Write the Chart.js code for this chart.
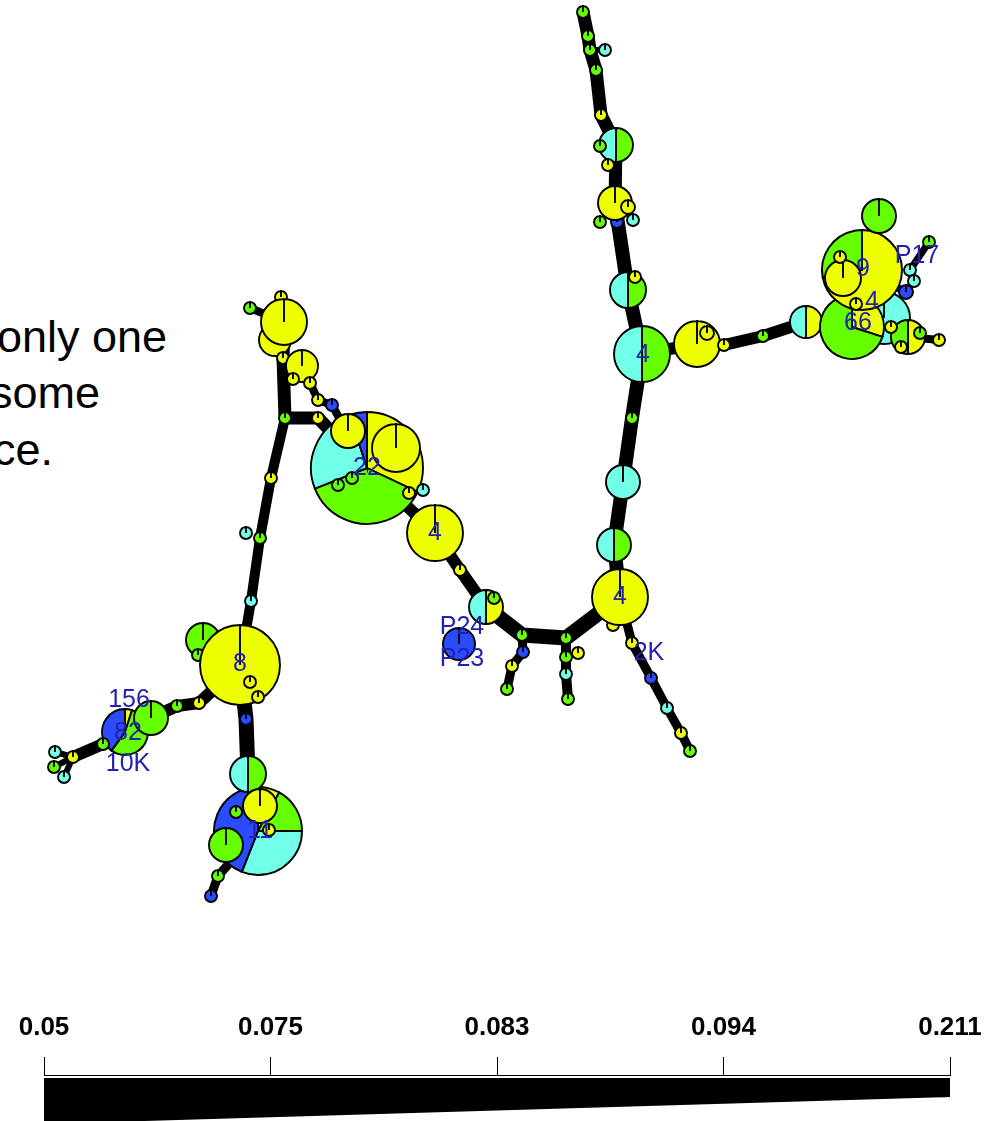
<!DOCTYPE html>
<html>
<head>
<meta charset="utf-8">
<script src="https://cdn.jsdelivr.net/npm/chart.js@4.4.1/dist/chart.umd.min.js"></script>
<style>
  body { margin: 0; background: #fff; }
  #wrap { position: relative; width: 990px; height: 1121px; overflow: hidden; font-family: "Liberation Sans", Arial, sans-serif; }
  .note { position: absolute; font-size: 45px; line-height: 45px; color: #000; white-space: nowrap; }
  #net { position: absolute; left: 0; top: 0; }
  #scale { position: absolute; left: 0; top: 1000px; }
</style>
</head>
<body>
<div id="wrap">
  <div class="note" style="left:275px; top:-48px">Grouping</div>
  <div class="note" style="left:-3px; top:314px">only one</div>
  <div class="note" style="left:-10px; top:370px">some</div>
  <div class="note" style="left:-7px; top:427px">ce.</div>
  <canvas id="net" width="990" height="1000"></canvas>
  <canvas id="scale" width="990" height="121"></canvas>
</div>
<script>
// ==================== DATA ====================
// nodes: id, x, y, size, share of yellow / green / cyan / blue (a letter = one colour only)
const topStem = [
    ['t1', 583, 12, 6, 'G'], ['t2', 588, 36, 6, 'G'], ['t3', 590, 50, 6, 'G'], ['t4', 605, 50, 6, 'C'],
    ['t5', 596, 70, 6, 'G'], ['t6', 601, 115, 6, 'Y'],
    ['t7', 616, 145, 17, [0, .5, .5, 0]], ['t8', 600, 146, 6, 'G'], ['t9', 608, 165, 6, 'Y'],
    ['t13', 617, 222, 6, 'B'], ['t10', 615, 203, 17, 'Y'], ['t11', 628, 207, 7, 'Y'],
    ['t12', 600, 222, 6, 'G'], ['t14', 633, 220, 6, 'C'],
    ['t15', 628, 290, 18, [0, .5, .5, 0]], ['t16', 635, 277, 6, 'Y'],
    ['hA', 642, 354, 28, [0, .5, .5, 0]], ['t17', 632, 418, 6, 'G'],
    ['t18', 623, 482, 17, 'C'], ['t19', 614, 545, 17, [0, .5, .5, 0]],
    ['t20', 613, 625, 6, 'Y'], ['hB', 620, 597, 28, 'Y']
];
const rightArm = [
    ['r1', 697, 344, 23, 'Y'], ['r2', 707, 333, 7, 'Y'], ['r3', 724, 345, 6, 'Y'], ['r4', 763, 336, 6, 'G'],
    ['r5', 806, 322, 16, [.5, 0, .5, 0]],
    ['r6', 884, 318, 26, 'C'], ['r14', 906, 292, 7, 'B'],
    ['h66', 852, 327, 32, [.3, .7, 0, 0]], ['h9', 862, 270, 40, [.72, .28, 0, 0]],
    ['r7', 879, 216, 17, 'G'], ['r8', 843, 278, 18, 'Y'], ['r9', 840, 257, 6, 'Y'], ['r10', 856, 304, 6, 'Y'],
    ['r11', 929, 242, 6, 'G'], ['r12', 910, 270, 6, 'C'], ['r13', 914, 281, 6, 'C'],
    ['r15', 908, 337, 17, [.5, .5, 0, 0]], ['r16', 920, 333, 6, 'G'], ['r17', 901, 347, 6, 'Y'],
    ['r18', 891, 327, 6, 'Y'], ['r19', 939, 340, 6, 'Y']
];
const leftTop = [
    ['l1', 250, 308, 6, 'G'], ['l2', 281, 297, 6, 'Y'], ['l3', 275, 340, 16, 'Y'], ['l4', 284, 322, 23, 'Y'],
    ['l5', 283, 358, 6, 'Y'], ['l6', 302, 366, 16, 'Y'], ['l7', 293, 379, 6, 'Y'], ['l8', 310, 383, 6, 'Y'],
    ['l9', 318, 400, 6, 'Y'], ['l10', 332, 405, 6, 'B'], ['l11', 318, 418, 6, 'Y'], ['l12', 285, 418, 6, 'G'],
    ['h22', 367, 468, 56, [.32, .37, .26, .05]],
    ['l13', 348, 431, 17, 'Y'], ['l14', 396, 448, 24, 'Y'],
    ['l15', 338, 485, 6, 'G'], ['l16', 352, 478, 6, 'G'], ['l17', 409, 493, 6, 'Y'], ['l18', 423, 490, 6, 'C']
];
const valley = [
    ['hC', 435, 533, 28, 'Y'], ['v19', 460, 570, 6, 'Y'], ['p23', 459, 644, 16, 'B'],
    ['v20', 486, 607, 17, [.5, 0, .5, 0]], ['v21', 494, 598, 6, 'G'],
    ['v22', 522, 635, 6, 'G'], ['v23', 523, 652, 6, 'B'], ['v24', 512, 666, 6, 'Y'], ['v25', 507, 689, 6, 'G'],
    ['v26', 566, 638, 6, 'G'], ['v27', 578, 653, 6, 'Y'], ['v28', 566, 657, 6, 'G'], ['v29', 566, 674, 6, 'C'],
    ['v30', 568, 699, 6, 'G'],
    ['v31', 632, 643, 6, 'Y'], ['v32', 651, 678, 6, 'B'], ['v33', 667, 708, 6, 'C'], ['v34', 681, 733, 6, 'Y'],
    ['v35', 690, 751, 6, 'G']
];
const lowerLeft = [
    ['d1', 271, 478, 6, 'Y'], ['d2', 246, 533, 6, 'C'], ['d3', 260, 538, 6, 'G'], ['d4', 251, 601, 6, 'C'],
    ['d5', 203, 640, 17, 'G'], ['d6', 198, 655, 6, 'G'],
    ['h8', 240, 665, 40, 'Y'], ['d7', 250, 682, 6, 'Y'], ['d8', 258, 697, 6, 'Y'], ['d9', 246, 719, 6, 'B'],
    ['h11', 258, 831, 44, [.08, .17, .31, .44]], ['d10', 248, 774, 18, [0, .5, .5, 0]],
    ['d11', 260, 806, 17, 'Y'], ['d12', 236, 812, 6, 'G'], ['d13', 226, 845, 17, 'G'], ['d14', 269, 830, 6, 'Y'],
    ['d15', 218, 876, 6, 'G'], ['d16', 211, 896, 6, 'B']
];
const farLeft = [
    ['w1', 199, 703, 6, 'Y'], ['w2', 177, 706, 6, 'G'],
    ['h82', 125, 732, 23, [.05, .55, 0, .4]], ['w3', 151, 718, 17, 'G'],
    ['w4', 103, 744, 6, 'G'], ['w5', 73, 757, 6, 'Y'], ['w6', 55, 752, 6, 'C'], ['w7', 54, 767, 6, 'G'],
    ['w8', 64, 777, 6, 'C']
];

// edges: chain of node ids, distance (thickness follows the scale below)
const edgeChains = [
    [['t1', 't2', 't3', 't5', 't6', 't7'], 0.0803],
    [['t3', 't4'], 0.211],
    [['t7', 't10'], 0.0803],
    [['t10', 't15', 'hA'], 0.0777],
    [['hA', 't17', 't18', 't19', 'hB'], 0.0777],
    [['hA', 'r1', 'r3', 'r4', 'r5', 'h66'], 0.083],
    [['h66', 'r15', 'r19'], 0.133],
    [['h9', 'r14', 'r13', 'r12', 'r11'], 0.172],
    [['hB', 'v31', 'v32', 'v33', 'v34', 'v35'], 0.094],
    [['hB', 'v26', 'v22', 'v20'], 0.075],
    [['v26', 'v28', 'v29', 'v30'], 0.0903],
    [['v22', 'v23', 'v24', 'v25'], 0.094],
    [['v20', 'v19', 'hC', 'h22'], 0.083],
    [['h22', 'l11', 'l12'], 0.0803],
    [['h22', 'l10', 'l9', 'l8', 'l6'], 0.133],
    [['l12', 'l5', 'l4'], 0.0803],
    [['l4', 'l1'], 0.133],
    [['l12', 'd1', 'd3', 'd4', 'h8'], 0.0903],
    [['h8', 'd9', 'd10', 'h11'], 0.075],
    [['h11', 'd15', 'd16'], 0.094],
    [['h8', 'w1', 'w2', 'w3', 'h82', 'w4', 'w5'], 0.083],
    [['w5', 'w6'], 0.211], [['w5', 'w7'], 0.211], [['w5', 'w8'], 0.211]
];

const nodeLabels = [
    ['4', 643, 355], ['4', 620, 597], ['4', 435, 533], ['22', 367, 468], ['8', 240, 664], ['11', 260, 831],
    ['156', 129, 700], ['82', 128, 733], ['10K', 128, 764], ['P24', 462, 627], ['P23', 462, 659],
    ['2K', 649, 653], ['9', 863, 269], ['4', 872, 302], ['66', 858, 323], ['P17', 917, 256]
];

// distance scale under the network
const barTickValues = [0.05, 0.075, 0.083, 0.094, 0.211];
const barTickLabels = ['0.05', '0.075', '0.083', '0.094', '0.211'];
const wedgeDepth = [49, 22];

// ==================== HELPERS ====================
const pieColours = ['#eeff00', '#66ff00', '#72ffe8', '#2b4bff'];
const letterMix = { Y: [1, 0, 0, 0], G: [0, 1, 0, 0], C: [0, 0, 1, 0], B: [0, 0, 0, 1] };
const allNodes = [...topStem, ...rightArm, ...leftTop, ...valley, ...lowerLeft, ...farLeft];
const nodePos = {};
allNodes.forEach(n => { nodePos[n[0]] = { x: n[1], y: n[2] }; });

// position of a distance on the scale (0..4), then a line width
function scalePos(d) {
    for (let i = 1; i < barTickValues.length; i++) {
        if (d <= barTickValues[i]) return i - 1 + (d - barTickValues[i - 1]) / (barTickValues[i] - barTickValues[i - 1]);
    }
    return barTickValues.length - 1;
}
const edgeWidth = d => 18 - 3 * scalePos(d);

function drawPie(ctx, cx, cy, r, mix) {
    const shares = typeof mix === 'string' ? letterMix[mix] : mix;
    const total = shares.reduce((s, v) => s + v, 0);
    let a = -Math.PI / 2;
    ctx.lineWidth = 1.9;
    ctx.strokeStyle = '#000';
    shares.forEach((v, k) => {
        if (!v) return;
        const b = a + v / total * Math.PI * 2;
        ctx.beginPath();
        ctx.moveTo(cx, cy);
        ctx.arc(cx, cy, r, a, b);
        ctx.closePath();
        ctx.fillStyle = pieColours[k];
        ctx.fill();
        ctx.stroke();
        a = b;
    });
}

const piePlugin = {
    id: 'pies',
    afterDatasetsDraw(chart) {
        const ctx = chart.ctx, xs = chart.scales.x, ys = chart.scales.y;
        const meta = chart.getDatasetMeta(chart.data.datasets.length - 1);
        ctx.save();
        meta.data.forEach((pt, i) => {
            const n = allNodes[i];
            const r = xs.getPixelForValue(n[1] + n[3]) - xs.getPixelForValue(n[1]);
            drawPie(ctx, pt.x, pt.y, r, n[4]);
        });
        ctx.font = '25px "Liberation Sans", Arial, sans-serif';
        ctx.fillStyle = '#2222b0';
        ctx.textAlign = 'center';
        ctx.textBaseline = 'middle';
        nodeLabels.forEach(([t, x, y]) => ctx.fillText(t, xs.getPixelForValue(x), ys.getPixelForValue(y)));
        ctx.restore();
    }
};

// ==================== NETWORK ====================
const edgeSets = edgeChains.map(([ids, dist]) => ({
    type: 'line',
    data: ids.map(id => nodePos[id]),
    showLine: true,
    borderColor: '#000',
    borderWidth: edgeWidth(dist),
    borderJoinStyle: 'round',
    pointRadius: 0,
    fill: false,
    tension: 0
}));
const nodeSet = { data: allNodes.map(n => ({ x: n[1], y: n[2] })), pointRadius: 0, showLine: false };

new Chart(document.getElementById('net'), {
    type: 'scatter',
    data: { datasets: [...edgeSets, nodeSet] },
    options: {
        responsive: false, animation: false, events: [],
        layout: { padding: 0 },
        plugins: { legend: { display: false }, tooltip: { enabled: false } },
        scales: {
            x: { type: 'linear', min: 0, max: 990, display: false },
            y: { type: 'linear', min: 0, max: 1000, reverse: true, display: false }
        }
    },
    plugins: [piePlugin]
});

// ==================== SCALE BAR ====================
new Chart(document.getElementById('scale'), {
    type: 'scatter',
    data: {
        datasets: [
            { data: [{ x: 0, y: wedgeDepth[0] }, { x: 4, y: wedgeDepth[1] }], showLine: true, fill: { value: 3 },
              backgroundColor: '#000', borderWidth: 0, pointRadius: 0 },
            { data: [{ x: 3.95, y: 22.3 }, { x: 4, y: wedgeDepth[1] }], showLine: true, fill: { value: 3 },
              backgroundColor: '#2e4444', borderWidth: 0, pointRadius: 0 }
        ]
    },
    options: {
        responsive: false, animation: false, events: [],
        layout: { padding: { left: 44, right: 40, top: 0, bottom: 0 } },
        plugins: { legend: { display: false }, tooltip: { enabled: false } },
        scales: {
            x: {
                type: 'linear', position: 'top', min: 0, max: 4,
                afterFit: s => { s.height = 75; },
                ticks: { stepSize: 1, autoSkip: false, maxRotation: 0, padding: 2, color: '#000',
                         font: { family: '"Liberation Sans", Arial, sans-serif', size: 26, weight: 'bold', lineHeight: 2.08 },
                         callback: v => barTickLabels[v] },
                grid: { drawOnChartArea: false, drawTicks: true, tickLength: 18, color: '#000', lineWidth: 1 },
                border: { display: true, color: '#000', width: 1 }
            },
            y: { type: 'linear', min: 0, max: 46, reverse: true, display: false }
        }
    }
});
</script>
</body>
</html>
